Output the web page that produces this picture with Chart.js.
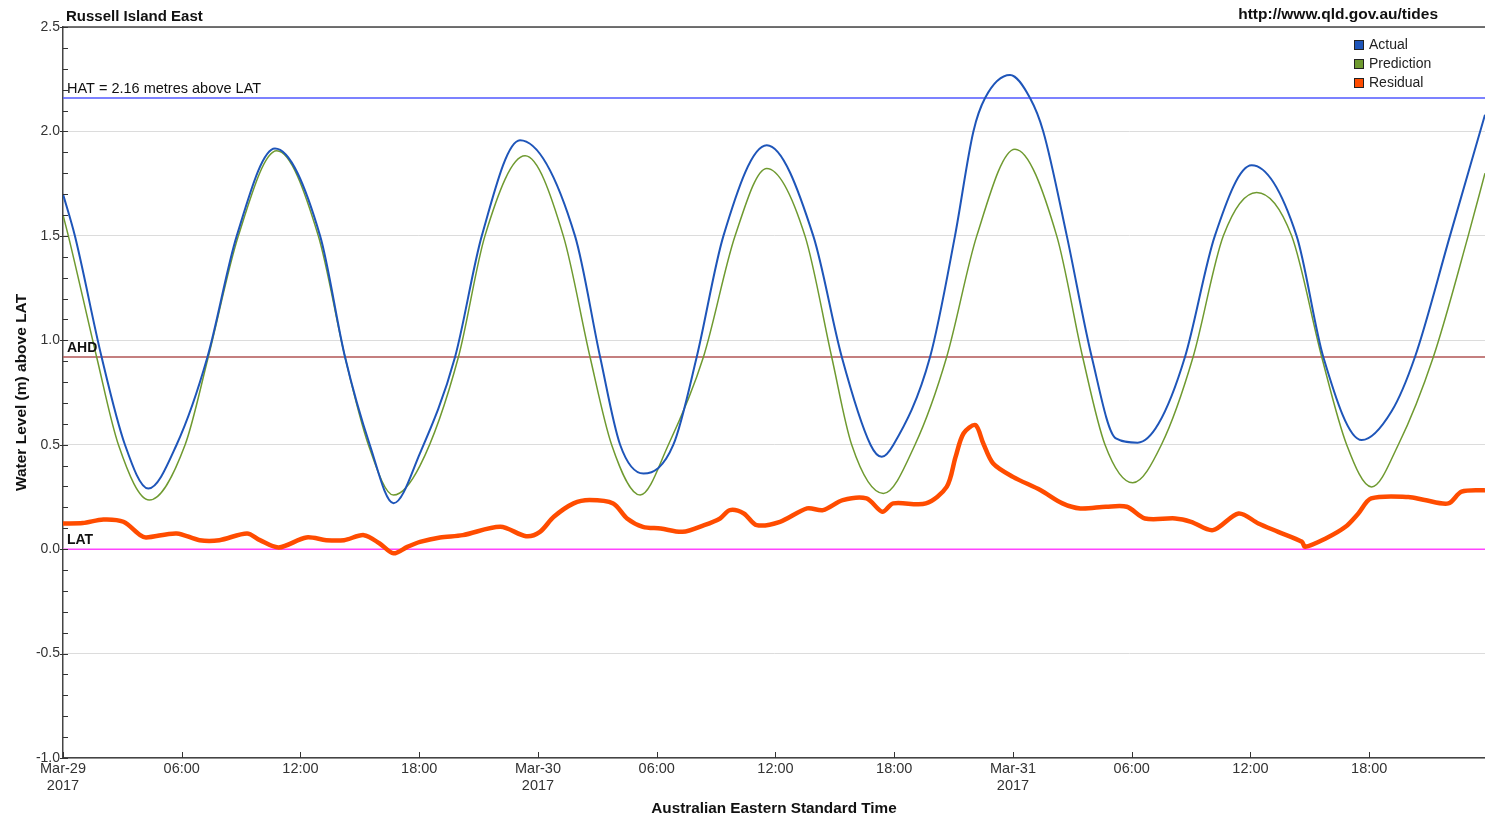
<!DOCTYPE html>
<html>
<head>
<meta charset="utf-8">
<title>Russell Island East</title>
<script src="https://cdn.jsdelivr.net/npm/chart.js@4/dist/chart.umd.min.js"></script>
<style>
  html, body { margin: 0; padding: 0; background: #fff; }
  #wrap { position: relative; width: 1485px; height: 818px; }
</style>
</head>
<body>
<div id="wrap"><canvas id="tideChart"></canvas></div>
<script>
// hours since Mar-29 2017 00:00 AEST, water level in metres above LAT
let predHours  = [0, 0.27, 1.7, 2.8, 4.36, 6.17, 7.34, 8.86, 10.8, 12.9, 14.25, 15.43, 16.7, 18.04, 19.98, 21.32, 23.35, 25.28, 26.63, 27.72, 29.16, 30.59, 32.36, 33.96, 35.56, 37.49, 38.84, 39.85, 41.45, 43.05, 44.65, 46.17, 48.1, 50.21, 51.52, 52.65, 54.05, 55.5, 57.1, 58.63, 60.31, 62.08, 63.6, 64.86, 66.12, 67.47, 69.24, 71.0, 71.85];
let predLevels = [1.60, 1.50, 0.92, 0.50, 0.235, 0.50, 0.92, 1.50, 1.907, 1.50, 0.92, 0.50, 0.259, 0.40, 0.92, 1.50, 1.883, 1.50, 0.92, 0.50, 0.259, 0.50, 0.92, 1.50, 1.823, 1.50, 0.92, 0.50, 0.267, 0.50, 0.92, 1.50, 1.915, 1.50, 0.92, 0.50, 0.318, 0.50, 0.92, 1.50, 1.708, 1.50, 0.92, 0.50, 0.298, 0.50, 0.92, 1.50, 1.80];

let actualHours  = [0, 0.6, 1.95, 3.13, 4.31, 5.74, 7.3, 8.78, 10.71, 12.99, 14.25, 15.5, 16.7, 18.04, 19.81, 21.16, 23.09, 25.87, 27.14, 28.15, 29.33, 30.84, 32.02, 33.37, 35.56, 37.91, 39.35, 40.8, 41.37, 41.96, 43.81, 45.07, 46.0, 46.59, 47.85, 48.86, 49.53, 50.72, 51.98, 53.2, 54.3, 55.35, 56.69, 58.2, 60.06, 62.33, 63.68, 65.62, 67.13, 68.31, 70.08, 71.85];
let actualLevels = [1.70, 1.50, 0.92, 0.50, 0.29, 0.50, 0.92, 1.50, 1.918, 1.50, 0.92, 0.50, 0.22, 0.46, 0.92, 1.50, 1.958, 1.50, 0.92, 0.50, 0.362, 0.50, 0.92, 1.50, 1.934, 1.50, 0.92, 0.50, 0.442, 0.50, 0.92, 1.50, 2.00, 2.16, 2.27, 2.16, 2.00, 1.50, 0.92, 0.53, 0.51, 0.60, 0.92, 1.50, 1.838, 1.50, 0.92, 0.522, 0.66, 0.92, 1.50, 2.08];

let residHours  = [0, 1.0, 2.04, 3.05, 3.9, 4.2, 5.74, 6.9, 7.9, 9.3, 9.95, 10.9, 12.3, 13.3, 14.2, 15.2, 16.0, 16.7, 17.4, 18.04, 19.05, 20.2, 22.1, 23.4, 24.1, 24.8, 25.8, 26.6, 27.8, 28.5, 29.3, 30.2, 31.3, 32.4, 33.2, 33.7, 34.4, 35.05, 36.23, 37.6, 38.4, 39.4, 40.6, 41.4, 41.95, 43.6, 44.65, 45.1, 45.5, 46.1, 46.5, 47.0, 48.0, 49.4, 50.5, 51.4, 52.7, 53.75, 54.67, 56.2, 57.0, 58.1, 59.4, 60.4, 61.4, 62.6, 62.76, 63.8, 64.8, 65.45, 66.1, 67.98, 68.8, 70.0, 70.67, 71.85];
let residLevels = [0.123, 0.125, 0.142, 0.131, 0.067, 0.056, 0.075, 0.043, 0.043, 0.075, 0.043, 0.008, 0.056, 0.043, 0.043, 0.067, 0.027, -0.02, 0.011, 0.035, 0.056, 0.067, 0.107, 0.062, 0.083, 0.155, 0.219, 0.235, 0.219, 0.147, 0.107, 0.099, 0.083, 0.115, 0.147, 0.187, 0.171, 0.115, 0.131, 0.195, 0.187, 0.235, 0.243, 0.179, 0.219, 0.219, 0.298, 0.442, 0.554, 0.594, 0.506, 0.41, 0.346, 0.282, 0.219, 0.195, 0.203, 0.203, 0.147, 0.147, 0.131, 0.091, 0.171, 0.123, 0.083, 0.035, 0.011, 0.051, 0.107, 0.171, 0.243, 0.25, 0.235, 0.219, 0.275, 0.282];

let refNames  = ['HAT = 2.16 metres above LAT', 'AHD', 'LAT'];
let refLevels = [2.16, 0.92, 0.0];

let dayLabels = ['Mar-29', 'Mar-30', 'Mar-31'];
let yearLabel = '2017';
let endHour = 71.85;

let fontFam = '"Liberation Sans", Arial, sans-serif';

function toPoints(xs, ys) {
    let pts = [];
    for (let i = 0; i < xs.length; i++) pts.push({ x: xs[i], y: ys[i] });
    return pts;
}

let refColors = ['#5058ff', '#b05454', '#ff44ff'];
let refSets = refLevels.map((lvl, i) => ({
    label: refNames[i],
    data: [{ x: 0, y: lvl }, { x: endHour, y: lvl }],
    borderColor: refColors[i],
    borderWidth: 1.5,
    pointRadius: 0,
    order: 10,
    isRef: true
}));

// titles, ref labels, legend, inner tick marks
let decorPlugin = {
    id: 'decor',
    afterDatasetsDraw(chart) {
        let ctx = chart.ctx;
        let area = chart.chartArea;
        let ys = chart.scales.y, xs = chart.scales.x;
        ctx.save();
        // top frame line
        ctx.strokeStyle = '#444';
        ctx.lineWidth = 1.5;
        ctx.beginPath();
        ctx.moveTo(area.left, area.top);
        ctx.lineTo(area.right, area.top);
        ctx.stroke();

        // inner tick marks
        ctx.lineWidth = 1;
        ctx.strokeStyle = '#333';
        ys.ticks.forEach(t => {
            let py = Math.round(ys.getPixelForValue(t.value)) + 0.5;
            let major = Math.abs(t.value * 2 - Math.round(t.value * 2)) < 1e-6;
            ctx.beginPath();
            ctx.moveTo(area.left - (major ? 3 : 0), py);
            ctx.lineTo(area.left + 5, py);
            ctx.stroke();
        });
        xs.ticks.forEach(t => {
            let px = Math.round(xs.getPixelForValue(t.value)) + 0.5;
            ctx.beginPath();
            ctx.moveTo(px, area.bottom);
            ctx.lineTo(px, area.bottom - 6);
            ctx.stroke();
        });

        // reference line labels
        ctx.fillStyle = '#111';
        ctx.textBaseline = 'middle';
        ctx.textAlign = 'left';
        refNames.forEach((name, i) => {
            ctx.font = (i === 0 ? '14.5px ' : 'bold 14px ') + fontFam;
            ctx.fillText(name, area.left + 4, ys.getPixelForValue(refLevels[i]) - 9);
        });

        // header texts
        ctx.font = 'bold 15px ' + fontFam;
        ctx.fillText('Russell Island East', 66, 17);
        ctx.textAlign = 'right';
        ctx.font = 'bold 15.5px ' + fontFam;
        ctx.fillText('http://www.qld.gov.au/tides', 1438, 15);

        // legend
        ctx.textAlign = 'left';
        ctx.font = '14px ' + fontFam;
        let row = 0;
        chart.data.datasets.forEach(ds => {
            if (ds.isRef) return;
            let ly = 45 + row * 19;
            ctx.fillStyle = ds.borderColor;
            ctx.fillRect(1354, ly - 5, 10, 10);
            ctx.strokeStyle = '#222';
            ctx.strokeRect(1354.5, ly - 4.5, 9, 9);
            ctx.fillStyle = '#222';
            ctx.fillText(ds.label, 1369, ly);
            row++;
        });
        ctx.restore();
    }
};

let chart = new Chart(document.getElementById('tideChart'), {
    type: 'line',
    data: {
        datasets: [
            {
                label: 'Actual',
                data: toPoints(actualHours, actualLevels),
                borderColor: '#1e55b9',
                borderWidth: 2,
                pointRadius: 0,
                cubicInterpolationMode: 'monotone',
                order: 1
            },
            {
                label: 'Prediction',
                data: toPoints(predHours, predLevels),
                borderColor: '#6f9a30',
                borderWidth: 1.5,
                pointRadius: 0,
                cubicInterpolationMode: 'monotone',
                order: 2
            },
            {
                label: 'Residual',
                data: toPoints(residHours, residLevels),
                borderColor: '#ff4c00',
                borderWidth: 4.5,
                pointRadius: 0,
                tension: 0.3,
                order: 3
            }
        ].concat(refSets)
    },
    options: {
        responsive: true,
        maintainAspectRatio: false,
        animation: false,
        layout: { padding: { top: 27, left: 0, right: 0, bottom: 0 } },
        plugins: {
            legend: { display: false },
            tooltip: { enabled: false }
        },
        scales: {
            x: {
                type: 'linear',
                min: 0,
                max: endHour,
                afterFit: s => { s.height = 60; },
                afterBuildTicks: s => {
                    s.ticks = s.ticks.filter(t => Math.abs(t.value / 6 - Math.round(t.value / 6)) < 1e-6);
                },
                ticks: {
                    stepSize: 6,
                    autoSkip: false,
                    maxRotation: 0,
                    padding: 2,
                    color: '#333',
                    font: { family: fontFam, size: 14.5 },
                    callback: v => {
                        if (v % 24 === 0) return [dayLabels[v / 24], yearLabel];
                        return String(v % 24).padStart(2, '0') + ':00';
                    }
                },
                grid: { display: false, drawTicks: false },
                border: { color: '#444', width: 1.5 },
                title: {
                    display: true,
                    text: 'Australian Eastern Standard Time',
                    color: '#111',
                    font: { family: fontFam, size: 15.3, weight: 'bold' },
                    padding: { top: 0, bottom: 0 }
                }
            },
            y: {
                min: -1,
                max: 2.5,
                afterFit: s => { s.width = 63; },
                ticks: {
                    stepSize: 0.1,
                    autoSkip: false,
                    padding: 3,
                    color: '#333',
                    font: { family: fontFam, size: 14 },
                    callback: v => {
                        if (Math.abs(v * 2 - Math.round(v * 2)) < 1e-6) return (Math.round(v * 2) / 2).toFixed(1);
                        return '';
                    }
                },
                grid: {
                    drawTicks: false,
                    color: c => {
                        let v = c.tick.value;
                        return Math.abs(v * 2 - Math.round(v * 2)) < 1e-6 ? '#dcdcdc' : 'rgba(0,0,0,0)';
                    }
                },
                border: { color: '#444', width: 1.5 },
                title: {
                    display: true,
                    text: 'Water Level (m) above LAT',
                    color: '#111',
                    font: { family: fontFam, size: 15.5, weight: 'bold' },
                    padding: { top: 12, bottom: 0 }
                }
            }
        }
    },
    plugins: [decorPlugin]
});
</script>
</body>
</html>
